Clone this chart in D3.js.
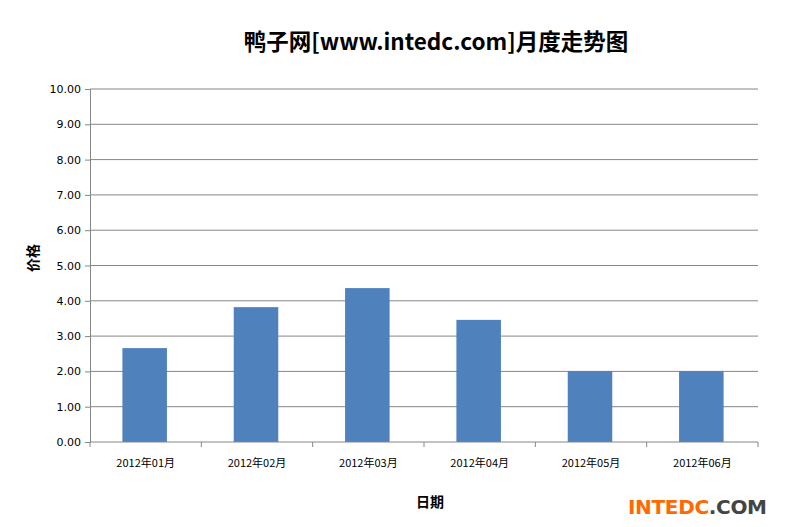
<!DOCTYPE html>
<html><head><meta charset="utf-8">
<script src="https://cdn.jsdelivr.net/npm/d3@7"></script>
<style>body{margin:0;background:#fff}</style></head>
<body><svg id="c" width="790" height="527"></svg>
<script>
const categories=["2012年01月","2012年02月","2012年03月","2012年04月","2012年05月","2012年06月"];
const values=[2.66,3.82,4.36,3.46,2.01,2.01];
const yTicks=[0,1,2,3,4,5,6,7,8,9,10];
const svg=d3.select("#c");
const L=90,R=758,T=89,B=442;
const x=d3.scaleBand().domain(categories).range([L,R]).paddingInner(0.6).paddingOuter(0.3);
const y=d3.scaleLinear().domain([0,10]).range([B,T]);
const f="'Noto Sans CJK SC','DejaVu Sans',sans-serif";
svg.append("g").selectAll("line").data(yTicks.slice(1)).join("line")
 .attr("x1",L).attr("x2",R).attr("y1",d=>y(d)).attr("y2",d=>y(d)).attr("stroke","#868686");
svg.append("g").selectAll("rect").data(values).join("rect")
 .attr("x",(d,i)=>x(categories[i])-1).attr("width",x.bandwidth())
 .attr("y",d=>y(d)).attr("height",d=>B-y(d)).attr("fill","#4f81bd");
const ya=svg.append("g").attr("transform",`translate(${L},0)`)
 .call(d3.axisLeft(y).tickValues(yTicks).tickFormat(d3.format(".2f")).tickSize(5).tickPadding(4));
ya.selectAll("text").style("font-family","'DejaVu Sans',sans-serif").style("font-size","11px").attr("fill","#000");
ya.selectAll("line,path").attr("stroke","#868686");
const step=(R-L)/categories.length;
const xa=svg.append("g").attr("transform",`translate(0,${B})`).call(d3.axisBottom(x).tickSize(0).tickPadding(17));
xa.selectAll("path").attr("stroke","#868686").attr("d",`M${L},0H${R}`);
xa.selectAll("text").style("font-family",f).style("font-size","11px").attr("fill","#000");
svg.append("g").selectAll("line").data(d3.range(categories.length+1)).join("line")
 .attr("x1",i=>L+i*step).attr("x2",i=>L+i*step).attr("y1",B).attr("y2",B+5).attr("stroke","#868686");
svg.append("text").attr("x",436).attr("y",50).attr("text-anchor","middle")
 .style("font-family",f).style("font-size","22.5px").style("font-weight","bold").text("鸭子网[www.intedc.com]月度走势图");
svg.append("text").attr("transform","translate(38,258) rotate(-90)").attr("text-anchor","middle")
 .style("font-family",f).style("font-size","14px").style("font-weight","bold").text("价格");
svg.append("text").attr("x",430).attr("y",507).attr("text-anchor","middle")
 .style("font-family",f).style("font-size","14px").style("font-weight","bold").text("日期");
const lg=svg.append("text").attr("x",628).attr("y",514).attr("textLength",139).style("font-family","'DejaVu Sans',sans-serif").style("font-size","20px").style("font-weight","bold");
lg.append("tspan").attr("fill","#ff6a00").text("INTEDC");
lg.append("tspan").attr("fill","#444").text(".COM");
</script></body></html>
